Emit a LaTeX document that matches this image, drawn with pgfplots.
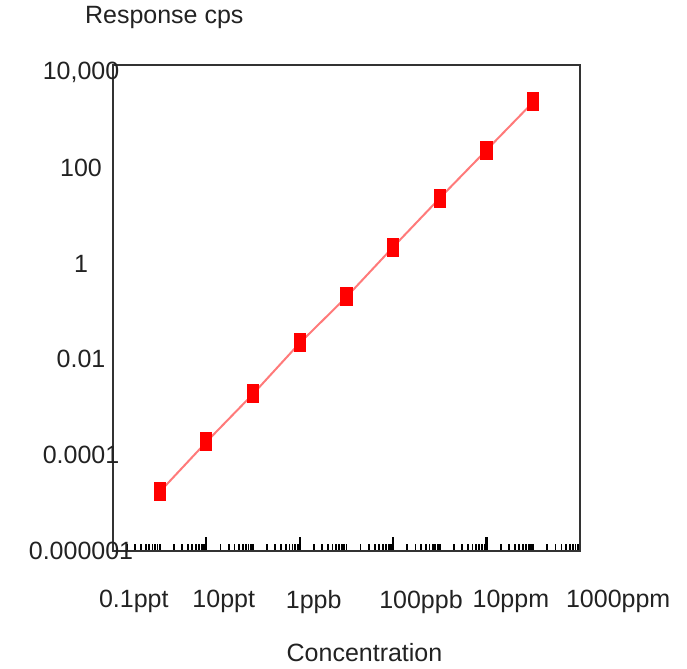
\documentclass[border=0pt]{standalone}
\usepackage{fontspec}
\setmainfont{Liberation Sans}
\usepackage{pgfplots}
\pgfplotsset{compat=1.18}
\definecolor{Mark}{HTML}{FF0000}
\definecolor{Trend}{HTML}{FF7A7A}
\definecolor{Frame}{HTML}{333333}
\definecolor{Ink}{HTML}{222222}

\begin{document}
\begin{tikzpicture}
\begin{axis}[at={(0,0)},anchor=south west,scale only axis,
width=233.5pt,height=243pt,
xmode=log,ymode=log,log basis x=10,log basis y=10,
xmin=1e-13,xmax=1e-3,ymin=1e-6,ymax=1.4e4,
axis line style={draw=Frame,line width=1pt},
font=\fontsize{12.5}{14}\selectfont,
every tick label/.append style={text=Ink},
label style={text=Ink},
xtick={1e-13,1e-11,1e-9,1e-7,1e-5,1e-3},
xticklabels={0.1ppt,10ppt,1ppb,100ppb,10ppm,1000ppm},
minor xtick={2e-13,3e-13,4e-13,5e-13,6e-13,7e-13,8e-13,9e-13,
1e-12,2e-12,3e-12,4e-12,5e-12,6e-12,7e-12,8e-12,9e-12,
2e-11,3e-11,4e-11,5e-11,6e-11,7e-11,8e-11,9e-11,
1e-10,2e-10,3e-10,4e-10,5e-10,6e-10,7e-10,8e-10,9e-10,
2e-9,3e-9,4e-9,5e-9,6e-9,7e-9,8e-9,9e-9,
1e-8,2e-8,3e-8,4e-8,5e-8,6e-8,7e-8,8e-8,9e-8,
2e-7,3e-7,4e-7,5e-7,6e-7,7e-7,8e-7,9e-7,
1e-6,2e-6,3e-6,4e-6,5e-6,6e-6,7e-6,8e-6,9e-6,
2e-5,3e-5,4e-5,5e-5,6e-5,7e-5,8e-5,9e-5,
1e-4,2e-4,3e-4,4e-4,5e-4,6e-4,7e-4,8e-4,9e-4},
xtick pos=bottom,tick align=inside,
major tick length=7pt,minor tick length=3.5pt,
xtick style={draw=black,line width=1.1pt},
minor x tick style={draw=black,line width=0.9pt},
xticklabel style={anchor=north west,xshift=-10.5pt,yshift=-16pt},
ytick={1e-6,1e-4,1e-2,1,100,1e4},
yticklabels={0.000001,0.0001,0.01,1,100,{10,000}},
ytick style={draw=none},
yticklabel style={anchor=center,xshift=-16pt},
xlabel={Concentration},
xlabel style={at={(rel axis cs:0.5,0)},anchor=center,xshift=9pt,yshift=-51pt},
ylabel={Response cps},
ylabel style={rotate=-90,at={(rel axis cs:0,1)},anchor=west,xshift=-17.5pt,yshift=23.5pt}]
\addplot[color=Trend,line width=1pt,mark=square*,
mark options={draw=Mark,fill=Mark,xscale=0.6},mark size=4.25pt] coordinates
{(1e-12,1.71e-5)(1e-11,1.89e-4)(1e-10,1.90e-3)(1e-9,0.0220)(1e-8,0.201)
(1e-7,2.22)(1e-6,23.4)(1e-5,235)(1e-4,2364)};
\end{axis}
\path (-56.5pt,-56pt) rectangle (287pt,275.5pt);
\end{tikzpicture}
\end{document}
